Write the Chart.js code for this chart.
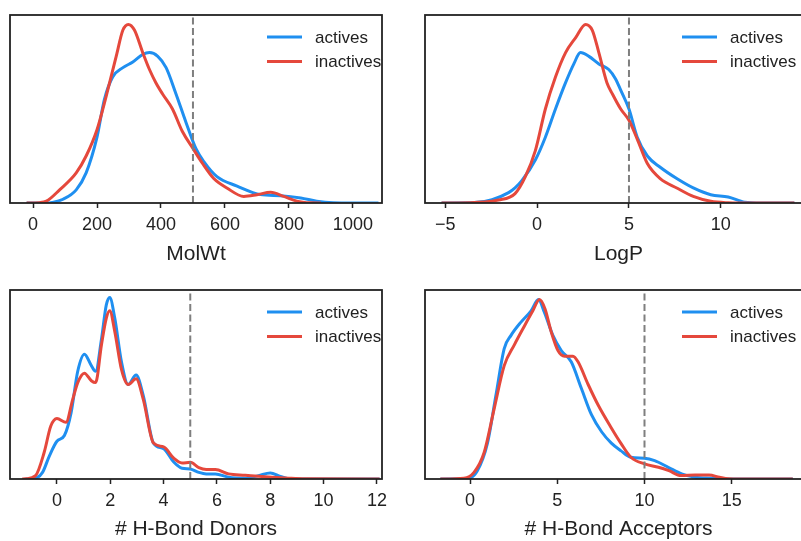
<!DOCTYPE html>
<html>
<head>
<meta charset="utf-8">
<script src="https://cdn.jsdelivr.net/npm/chart.js@4.4.1/dist/chart.umd.min.js"></script>
<style>
    html, body { margin: 0; padding: 0; background: #fff; width: 801px; height: 541px; overflow: hidden; }
    .panel { position: absolute; }
</style>
</head>
<body>
<div class="panel" style="left:0;top:0"><canvas id="molwtChart" width="400" height="270"></canvas></div>
<div class="panel" style="left:415px;top:0"><canvas id="logpChart" width="420" height="270"></canvas></div>
<div class="panel" style="left:0;top:275px"><canvas id="donorsChart" width="400" height="270"></canvas></div>
<div class="panel" style="left:415px;top:275px"><canvas id="acceptorsChart" width="420" height="270"></canvas></div>
<script>
// density curves, [x, relative density]
const molwtActives = [[-20, 0], [40, 0], [60, 0.003], [94, 0.02], [135, 0.07], [166, 0.16], [200, 0.35], [223, 0.55], [249, 0.67], [281, 0.72], [312, 0.75], [343, 0.79], [364, 0.80], [390, 0.78], [416, 0.72], [447, 0.58], [478, 0.43], [509, 0.29], [534, 0.22], [575, 0.14], [638, 0.09], [711, 0.045], [774, 0.039], [837, 0.027], [887, 0.009], [938, 0.001], [1000, 0], [1080, 0]];
const molwtInactives = [[-20, 0], [20, 0.002], [42, 0.01], [83, 0.07], [135, 0.16], [166, 0.25], [200, 0.39], [229, 0.57], [260, 0.78], [281, 0.92], [298, 0.95], [317, 0.92], [343, 0.80], [364, 0.71], [384, 0.64], [405, 0.58], [436, 0.50], [467, 0.38], [500, 0.29], [530, 0.21], [565, 0.13], [606, 0.08], [659, 0.035], [700, 0.044], [743, 0.057], [784, 0.035], [825, 0.01], [868, 0.001], [900, 0]];

const logpActives = [[-5.2, 0], [-3.4, 0.002], [-2.45, 0.018], [-1.55, 0.055], [-1.2, 0.08], [-0.82, 0.12], [-0.09, 0.23], [0.45, 0.35], [1.0, 0.50], [1.55, 0.64], [2.0, 0.74], [2.36, 0.80], [2.82, 0.78], [3.36, 0.74], [3.9, 0.71], [4.27, 0.66], [4.55, 0.60], [5.0, 0.50], [5.45, 0.35], [6.0, 0.25], [6.7, 0.19], [7.6, 0.13], [8.5, 0.08], [9.45, 0.044], [10.4, 0.032], [11.3, 0.004], [12.2, 0], [14, 0]];
const logpInactives = [[-5.2, 0], [-3.4, 0.003], [-2.1, 0.016], [-1.2, 0.05], [-0.64, 0.14], [-0.09, 0.28], [0.45, 0.50], [1.0, 0.67], [1.55, 0.80], [2.1, 0.88], [2.64, 0.95], [3.0, 0.92], [3.36, 0.80], [3.8, 0.64], [4.1, 0.58], [4.55, 0.50], [5.0, 0.44], [5.45, 0.34], [6.0, 0.21], [6.7, 0.13], [7.6, 0.08], [8.5, 0.035], [9.45, 0.009], [10.4, 0.001], [11, 0], [14, 0]];

const donorsActives = [[-1.17, 0], [-0.86, 0.002], [-0.54, 0.035], [-0.29, 0.12], [0, 0.20], [0.28, 0.23], [0.53, 0.35], [0.78, 0.57], [1.03, 0.66], [1.29, 0.60], [1.45, 0.57], [1.67, 0.74], [1.85, 0.92], [1.98, 0.96], [2.17, 0.85], [2.42, 0.62], [2.67, 0.50], [2.97, 0.55], [3.24, 0.44], [3.62, 0.19], [4.0, 0.16], [4.38, 0.09], [4.69, 0.057], [5.0, 0.053], [5.32, 0.035], [5.6, 0.027], [5.94, 0.027], [6.44, 0.009], [7.06, 0.004], [7.56, 0.018], [8.0, 0.032], [8.38, 0.014], [8.75, 0.001], [9.5, 0], [12.1, 0]];
const donorsInactives = [[-1.3, 0], [-1.17, 0.001], [-0.8, 0.018], [-0.48, 0.14], [-0.23, 0.28], [0, 0.32], [0.34, 0.30], [0.59, 0.42], [0.78, 0.51], [1.03, 0.56], [1.29, 0.52], [1.45, 0.51], [1.67, 0.71], [1.85, 0.85], [1.98, 0.89], [2.17, 0.78], [2.42, 0.58], [2.67, 0.50], [2.97, 0.53], [3.24, 0.42], [3.62, 0.19], [4.0, 0.17], [4.38, 0.11], [4.69, 0.085], [5.0, 0.088], [5.32, 0.06], [5.6, 0.05], [5.94, 0.05], [6.44, 0.027], [7.06, 0.02], [7.56, 0.014], [8.06, 0.009], [8.7, 0.004], [9.3, 0.001], [12.1, 0]];

const acceptorsActives = [[-1.7, 0], [-0.15, 0.002], [0.42, 0.044], [1.0, 0.19], [1.48, 0.44], [1.96, 0.69], [2.35, 0.76], [2.92, 0.83], [3.5, 0.89], [3.92, 0.95], [4.27, 0.88], [4.75, 0.76], [5.23, 0.68], [5.8, 0.62], [6.38, 0.48], [6.96, 0.34], [7.54, 0.25], [8.1, 0.19], [8.64, 0.15], [9.22, 0.115], [10.0, 0.11], [10.58, 0.097], [11.36, 0.062], [12.13, 0.027], [12.9, 0.009], [13.9, 0.004], [14.5, 0.001], [15.5, 0], [18.5, 0]];
const acceptorsInactives = [[-1.7, 0], [-0.35, 0.004], [0.23, 0.035], [0.81, 0.14], [1.38, 0.37], [1.96, 0.60], [2.54, 0.71], [3.12, 0.81], [3.6, 0.89], [3.98, 0.95], [4.3, 0.90], [4.65, 0.78], [5.04, 0.68], [5.42, 0.65], [5.9, 0.65], [6.19, 0.62], [6.77, 0.50], [7.35, 0.39], [8.1, 0.27], [8.64, 0.19], [9.22, 0.115], [10.0, 0.08], [10.8, 0.062], [11.4, 0.044], [12.1, 0.018], [12.9, 0.021], [13.7, 0.021], [14.3, 0.009], [14.8, 0.001], [15.5, 0], [18.5, 0]];

// tick labels on each x axis
const molwtTicks = [0, 200, 400, 600, 800, 1000];
const logpTicks = [-5, 0, 5, 10];
const donorsTicks = [0, 2, 4, 6, 8, 10, 12];
const acceptorsTicks = [0, 5, 10, 15];

const seriesLabels = ['actives', 'inactives'];
const BLUE = '#1f8ff0';
const RED = '#e5483c';
const INK = '#222222';

Chart.defaults.font.family = '"Liberation Sans", Arial, sans-serif';

const toPoints = pairs => pairs.map(([x, y]) => ({ x: x, y: y }));

const framePlugin = {
    id: 'frame',
    afterDraw(chart) {
        const { ctx, chartArea: a } = chart;
        ctx.save();
        ctx.strokeStyle = INK;
        ctx.lineWidth = 1.8;
        ctx.strokeRect(a.left, a.top, a.right - a.left, a.bottom - a.top);

        // legend, top right inside the axes
        const lx = a.left + 257;
        const entries = chart.data.datasets.filter(ds => seriesLabels.includes(ds.label));
        entries.sort((p, q) => seriesLabels.indexOf(p.label) - seriesLabels.indexOf(q.label));
        ctx.font = '17px "Liberation Sans", Arial, sans-serif';
        ctx.textBaseline = 'middle';
        entries.forEach((ds, i) => {
            const y = a.top + 22 + i * 24.5;
            ctx.strokeStyle = ds.borderColor;
            ctx.lineWidth = 3;
            ctx.beginPath();
            ctx.moveTo(lx, y);
            ctx.lineTo(lx + 35, y);
            ctx.stroke();
            ctx.fillStyle = INK;
            ctx.fillText(ds.label, lx + 48, y + 1);
        });
        ctx.restore();
    }
};

function drawPanel(canvasId, opts) {
    const ctx = document.getElementById(canvasId).getContext('2d');
    return new Chart(ctx, {
        type: 'line',
        data: {
            datasets: [
                {
                    label: 'cutoff',
                    data: [{ x: opts.cutoff, y: 0 }, { x: opts.cutoff, y: 1 }],
                    borderColor: '#7f7f7f',
                    borderWidth: 2,
                    borderDash: [7, 3.5],
                    pointRadius: 0
                },
                {
                    label: 'inactives',
                    data: toPoints(opts.inactives),
                    borderColor: RED,
                    borderWidth: 3,
                    pointRadius: 0,
                    cubicInterpolationMode: 'monotone'
                },
                {
                    label: 'actives',
                    data: toPoints(opts.actives),
                    borderColor: BLUE,
                    borderWidth: 3,
                    pointRadius: 0,
                    cubicInterpolationMode: 'monotone'
                }
            ]
        },
        options: {
            responsive: false,
            animation: false,
            layout: { padding: { left: 10, top: 15, right: opts.padRight, bottom: 0 } },
            scales: {
                x: {
                    type: 'linear',
                    min: opts.min,
                    max: opts.max,
                    afterBuildTicks: scale => { scale.ticks = opts.ticks.map(v => ({ value: v })); },
                    afterFit: scale => { scale.height = opts.axisHeight; },
                    border: { display: false },
                    grid: { drawOnChartArea: false, drawTicks: true, tickLength: 5, tickWidth: 1.5, tickColor: INK },
                    ticks: {
                        color: INK,
                        font: { size: 18 },
                        padding: 6,
                        maxRotation: 0,
                        autoSkip: false,
                        callback: v => (v < 0 ? '\u2212' + Math.abs(v) : String(v))
                    },
                    title: {
                        display: true,
                        text: opts.title,
                        color: INK,
                        font: { size: 21 },
                        padding: { top: 0, bottom: 3 }
                    }
                },
                y: { display: false, min: 0, max: 1 }
            },
            plugins: {
                legend: { display: false },
                tooltip: { enabled: false }
            }
        },
        plugins: [framePlugin]
    });
}

drawPanel('molwtChart', { actives: molwtActives, inactives: molwtInactives, ticks: molwtTicks, min: -72, max: 1091, cutoff: 500, title: 'MolWt', padRight: 18, axisHeight: 67 });
drawPanel('logpChart', { actives: logpActives, inactives: logpInactives, ticks: logpTicks, min: -6.1, max: 14.96, cutoff: 5, title: 'LogP', padRight: 23, axisHeight: 67 });
drawPanel('donorsChart', { actives: donorsActives, inactives: donorsInactives, ticks: donorsTicks, min: -1.76, max: 12.19, cutoff: 5, title: '# H-Bond Donors', padRight: 18, axisHeight: 66 });
drawPanel('acceptorsChart', { actives: acceptorsActives, inactives: acceptorsInactives, ticks: acceptorsTicks, min: -2.58, max: 19.6, cutoff: 10, title: '# H-Bond Acceptors', padRight: 23, axisHeight: 66 });
</script>
</body>
</html>
